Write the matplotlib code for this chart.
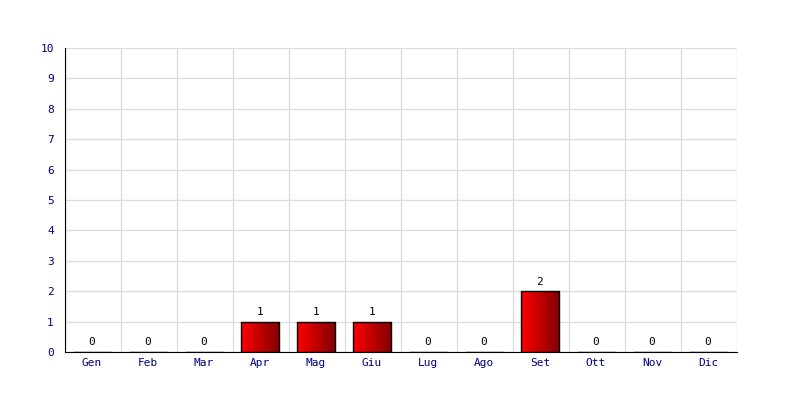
import matplotlib
matplotlib.use("Agg")
import matplotlib.pyplot as plt
import numpy as np
from matplotlib.colors import LinearSegmentedColormap

months = ["Gen", "Feb", "Mar", "Apr", "Mag", "Giu", "Lug", "Ago", "Set", "Ott", "Nov", "Dic"]
values = [0, 0, 0, 1, 1, 1, 0, 0, 2, 0, 0, 0]
yticks = list(range(0, 11))

plt.rcParams['font.family'] = ['DejaVu Sans Mono']

fig = plt.figure(figsize=(8, 4), dpi=100)
ax = fig.add_axes([0.08125, 0.12, 0.84, 0.76])

x = np.arange(len(months))
bars = ax.bar(x - 0.02, values, width=0.68, facecolor='none', edgecolor='black', linewidth=1, zorder=3)

cmap = LinearSegmentedColormap.from_list('rg', ['#ff0000', '#800000'])
grad = np.linspace(0, 1, 256).reshape(1, -1)
for b, v in zip(bars, values):
    if v > 0:
        x0, y0 = b.get_x(), b.get_y()
        w, h = b.get_width(), b.get_height()
        im = ax.imshow(grad, cmap=cmap, extent=[x0, x0 + w, y0, y0 + h],
                       aspect='auto', zorder=2, interpolation='bilinear')
        im.set_clip_path(b)
    ax.text(b.get_x() + b.get_width() / 2, v + 0.15, str(v), ha='center', va='bottom',
            fontsize=8, color='black', zorder=4)

ax.set_xlim(-0.5, len(months) - 0.5)
ax.set_ylim(0, 10)
ax.set_yticks(yticks)
ax.set_yticklabels([str(t) for t in yticks], color='#000080', fontsize=8)
ax.set_xticks(x - 0.02)
ax.set_xticklabels(months, color='#000080', fontsize=8)
ax.set_xticks(np.arange(-0.5, len(months), 1), minor=True)
ax.tick_params(axis='both', which='both', length=0)
ax.tick_params(axis='y', pad=8)
ax.tick_params(axis='x', pad=4)
ax.grid(True, which='minor', axis='x', color='#dddddd', linewidth=1, zorder=0)
ax.grid(True, which='major', axis='y', color='#dddddd', linewidth=1, zorder=0)
ax.set_axisbelow(True)
for s in ['top', 'right']:
    ax.spines[s].set_visible(False)
ax.spines['left'].set_color('black')
ax.spines['bottom'].set_color('black')
ax.spines['left'].set_zorder(5)
ax.spines['bottom'].set_zorder(5)

fig.savefig('out.png', dpi=100)
